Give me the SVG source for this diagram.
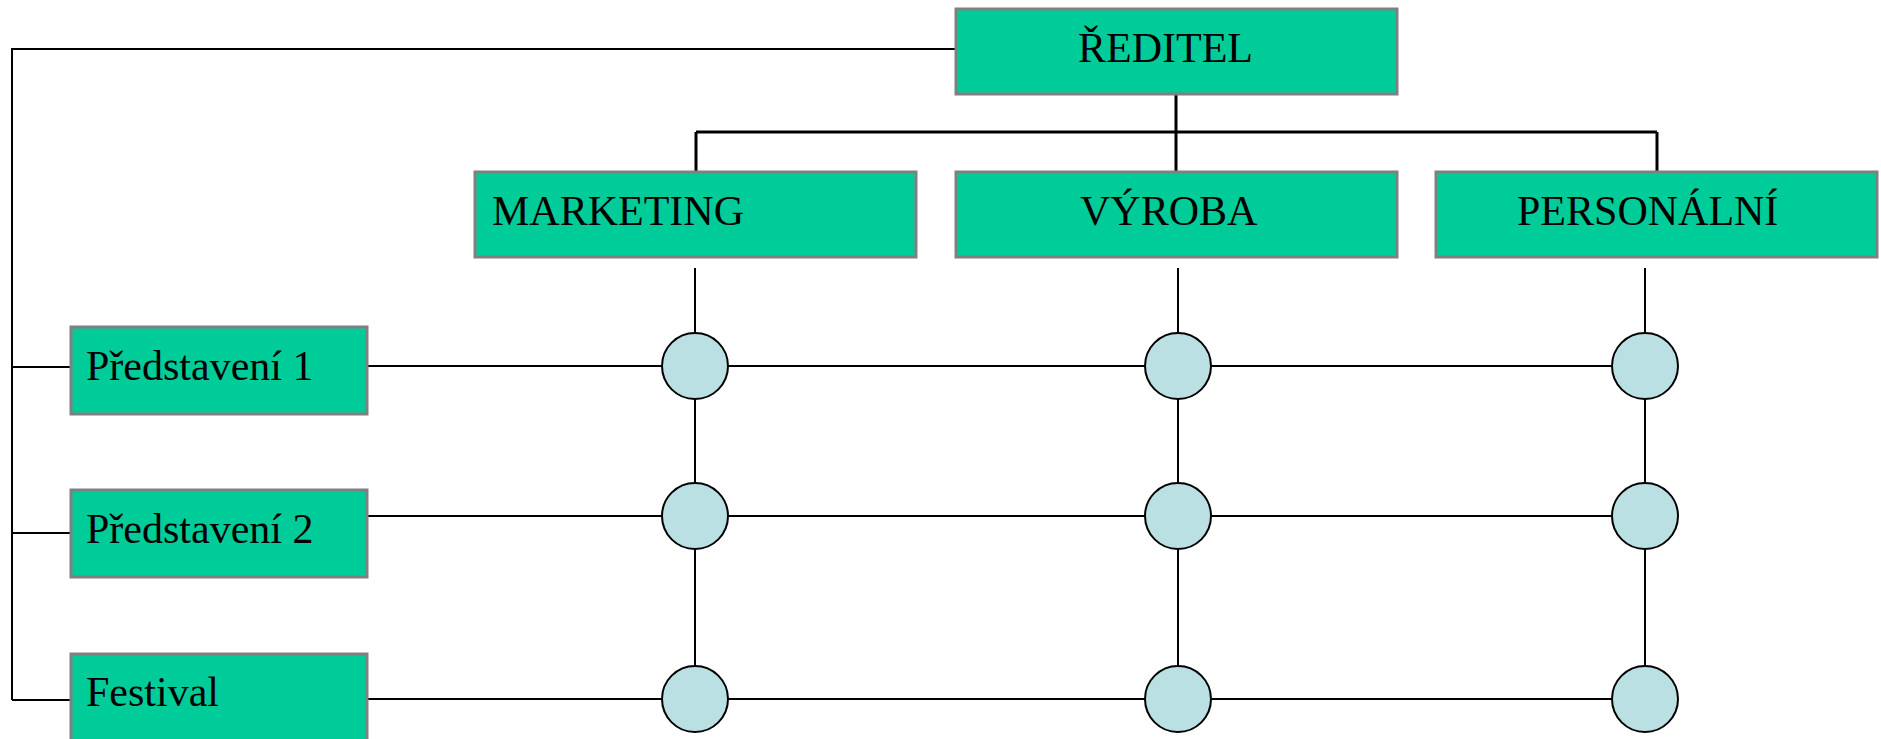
<svg xmlns="http://www.w3.org/2000/svg" width="1881" height="739" viewBox="0 0 1881 739">
<style>
.box{fill:#00CC99;stroke:#808080;stroke-width:3}
.lbl{font-family:"Liberation Serif","Times New Roman",serif;font-size:42px;fill:#000}
.ln{stroke:#000;stroke-width:2;fill:none}
.bus{stroke:#000;stroke-width:3;fill:none}
.dot{fill:#BBE0E3;stroke:#000;stroke-width:2}
</style>
<rect width="1881" height="739" fill="#fff"/>
<g id="connectors">
<polyline class="ln" points="956,49 12,49 12,700"/>
<line class="ln" x1="12" y1="367" x2="71" y2="367"/>
<line class="ln" x1="12" y1="533" x2="71" y2="533"/>
<line class="ln" x1="12" y1="700" x2="71" y2="700"/>
<line class="bus" x1="1176" y1="95" x2="1176" y2="172"/>
<line class="bus" x1="696" y1="132" x2="1657" y2="132"/>
<line class="bus" x1="696" y1="132" x2="696" y2="172"/>
<line class="bus" x1="1657" y1="132" x2="1657" y2="172"/>
<line class="ln" x1="695" y1="268" x2="695" y2="699"/>
<line class="ln" x1="1178" y1="268" x2="1178" y2="699"/>
<line class="ln" x1="1645" y1="268" x2="1645" y2="699"/>
<line class="ln" x1="367" y1="366" x2="1645" y2="366"/>
<line class="ln" x1="367" y1="516" x2="1645" y2="516"/>
<line class="ln" x1="367" y1="699" x2="1645" y2="699"/>
</g>
<g id="reditel"><rect class="box" x="956" y="9" width="441" height="85"/><text class="lbl" x="1078" y="62">ŘEDITEL</text></g>
<g id="marketing"><rect class="box" x="475" y="172" width="441" height="85"/><text class="lbl" x="492" y="225">MARKETING</text></g>
<g id="vyroba"><rect class="box" x="956" y="172" width="441" height="85"/><text class="lbl" x="1080" y="225">VÝROBA</text></g>
<g id="personalni"><rect class="box" x="1436" y="172" width="441" height="85"/><text class="lbl" x="1517" y="225">PERSONÁLNÍ</text></g>
<g id="predstaveni1"><rect class="box" x="71" y="327" width="296" height="87"/><text class="lbl" x="86" y="380">Představení 1</text></g>
<g id="predstaveni2"><rect class="box" x="71" y="490" width="296" height="87"/><text class="lbl" x="86" y="543">Představení 2</text></g>
<g id="festival"><rect class="box" x="71" y="654" width="296" height="87"/><text class="lbl" x="86" y="706">Festival</text></g>
<g id="nodes">
<circle class="dot" cx="695" cy="366" r="33"/>
<circle class="dot" cx="1178" cy="366" r="33"/>
<circle class="dot" cx="1645" cy="366" r="33"/>
<circle class="dot" cx="695" cy="516" r="33"/>
<circle class="dot" cx="1178" cy="516" r="33"/>
<circle class="dot" cx="1645" cy="516" r="33"/>
<circle class="dot" cx="695" cy="699" r="33"/>
<circle class="dot" cx="1178" cy="699" r="33"/>
<circle class="dot" cx="1645" cy="699" r="33"/>
</g>
</svg>
